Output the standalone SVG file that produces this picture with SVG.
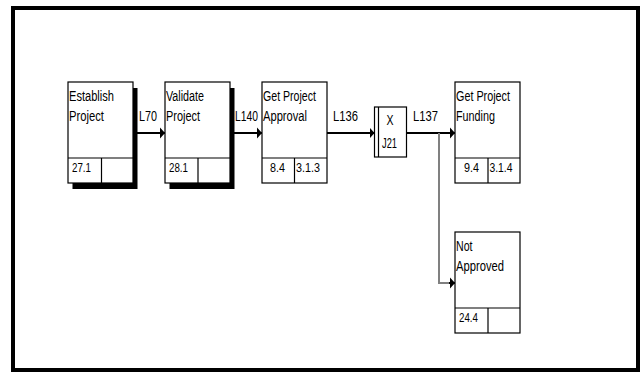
<svg xmlns="http://www.w3.org/2000/svg" width="641" height="373" viewBox="0 0 641 373">
<style>
text{font-family:"Liberation Sans",Arial,sans-serif;font-size:14px;fill:#000}
.n{font-size:13px}
.box{fill:#fff;stroke:#000;stroke-width:1.2}
.ln{stroke:#000;stroke-width:1.2;fill:none}
.sh{fill:#000}
.c{stroke:#000;stroke-width:2;fill:none}
.g{stroke:#808080;stroke-width:2;fill:none}
</style>
<defs>
<marker id="ah" markerUnits="userSpaceOnUse" markerWidth="6" markerHeight="12" refX="5" refY="6" orient="auto" viewBox="0 0 6 12">
<path d="M0,0.5 L5,6 L0,11.5 Z" fill="#000"/>
</marker>
</defs>
<rect x="0" y="0" width="641" height="373" fill="#fff"/>
<rect x="13" y="8" width="625" height="362" fill="none" stroke="#000" stroke-width="4"/>
<g id="connectors">
<line class="c" x1="133" y1="133" x2="165" y2="133" marker-end="url(#ah)"/>
<line class="c" x1="230" y1="133" x2="262" y2="133" marker-end="url(#ah)"/>
<line class="c" x1="327" y1="133" x2="374.5" y2="133" marker-end="url(#ah)"/>
<line class="c" x1="406.5" y1="133" x2="455" y2="133" marker-end="url(#ah)"/>
<polyline class="g" points="439,133 439,283 450,283"/>
<line class="c" x1="449" y1="283" x2="455" y2="283" marker-end="url(#ah)"/>
<rect x="400.5" y="128" width="2" height="6" fill="#000"/>
<text x="139" y="121" textLength="18" lengthAdjust="spacingAndGlyphs">L70</text>
<text x="235" y="121" textLength="23" lengthAdjust="spacingAndGlyphs">L140</text>
<text x="333" y="121" textLength="25" lengthAdjust="spacingAndGlyphs">L136</text>
<text x="413" y="121" textLength="25" lengthAdjust="spacingAndGlyphs">L137</text>
</g>
<g id="n1">
<rect class="sh" x="72.5" y="88" width="65" height="101"/>
<rect class="box" x="68" y="82" width="65" height="101"/>
<line class="ln" x1="68" y1="158" x2="133" y2="158"/>
<line class="ln" x1="101.5" y1="158" x2="101.5" y2="183"/>
<text x="69" y="101" textLength="45" lengthAdjust="spacingAndGlyphs">Establish</text>
<text x="69" y="121" textLength="35" lengthAdjust="spacingAndGlyphs">Project</text>
<text class="n" x="72" y="172" textLength="19" lengthAdjust="spacingAndGlyphs">27.1</text>
</g>
<g id="n2">
<rect class="sh" x="169.5" y="88" width="65" height="101"/>
<rect class="box" x="165" y="82" width="65" height="101"/>
<line class="ln" x1="165" y1="158" x2="230" y2="158"/>
<line class="ln" x1="198" y1="158" x2="198" y2="183"/>
<text x="166" y="101" textLength="38" lengthAdjust="spacingAndGlyphs">Validate</text>
<text x="166" y="121" textLength="34" lengthAdjust="spacingAndGlyphs">Project</text>
<text class="n" x="169" y="172" textLength="19" lengthAdjust="spacingAndGlyphs">28.1</text>
</g>
<g id="n3">
<rect class="box" x="262" y="82" width="65" height="101"/>
<line class="ln" x1="262" y1="158" x2="327" y2="158"/>
<line class="ln" x1="294.5" y1="158" x2="294.5" y2="183"/>
<text x="263" y="101" textLength="53" lengthAdjust="spacingAndGlyphs">Get Project</text>
<text x="263" y="121" textLength="44" lengthAdjust="spacingAndGlyphs">Approval</text>
<text class="n" x="270" y="172" textLength="15" lengthAdjust="spacingAndGlyphs">8.4</text>
<text class="n" x="296" y="172" textLength="24" lengthAdjust="spacingAndGlyphs">3.1.3</text>
</g>
<g id="j21">
<rect class="box" x="374.5" y="107" width="32" height="50"/>
<line class="ln" x1="378.5" y1="107" x2="378.5" y2="157"/>
<text x="390" y="125" text-anchor="middle" textLength="7" lengthAdjust="spacingAndGlyphs">X</text>
<text x="382" y="148" textLength="15" lengthAdjust="spacingAndGlyphs">J21</text>
</g>
<g id="n4">
<rect class="box" x="455" y="82" width="65" height="101"/>
<line class="ln" x1="455" y1="158" x2="520" y2="158"/>
<line class="ln" x1="488" y1="158" x2="488" y2="183"/>
<text x="456" y="101" textLength="54" lengthAdjust="spacingAndGlyphs">Get Project</text>
<text x="456" y="121" textLength="39" lengthAdjust="spacingAndGlyphs">Funding</text>
<text class="n" x="464" y="172" textLength="15" lengthAdjust="spacingAndGlyphs">9.4</text>
<text class="n" x="489.5" y="172" textLength="23" lengthAdjust="spacingAndGlyphs">3.1.4</text>
</g>
<g id="n5">
<rect class="box" x="455" y="232" width="65" height="101"/>
<line class="ln" x1="455" y1="308" x2="520" y2="308"/>
<line class="ln" x1="488" y1="308" x2="488" y2="333"/>
<text x="456" y="251" textLength="16.5" lengthAdjust="spacingAndGlyphs">Not</text>
<text x="456" y="271" textLength="48" lengthAdjust="spacingAndGlyphs">Approved</text>
<text class="n" x="459" y="322" textLength="19" lengthAdjust="spacingAndGlyphs">24.4</text>
</g>
</svg>
